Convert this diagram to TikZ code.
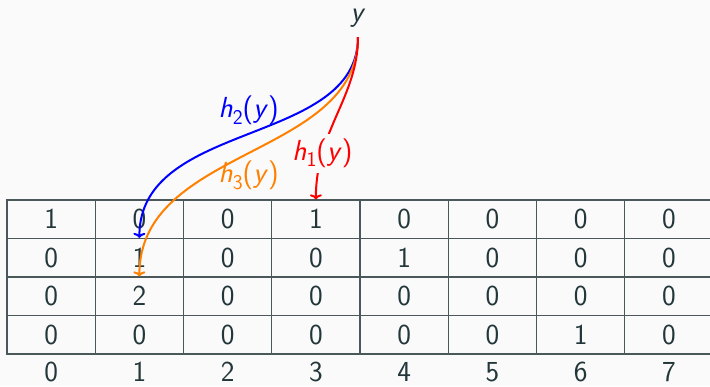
\documentclass[tikz,border=0pt]{standalone}
\usepackage{fontspec}
\usetikzlibrary{arrows.meta}
\definecolor{bgc}{HTML}{FAFAFA}
\definecolor{fgc}{HTML}{23373B}
\definecolor{gridc}{RGB}{75,88,90}
\definecolor{orng}{RGB}{255,128,0}
\newcommand\hlab[1]{\textit{h}\raisebox{-0.22em}{\fontsize{21}{24}\selectfont #1}(\textit{y})}
\tikzset{
  txt/.style={font=\sffamily\fontsize{29}{34}\selectfont, text=fgc},
  cell/.style={txt, draw=gridc, line width=1.3pt, minimum width=88.25pt, minimum height=38.5pt, inner sep=0pt, anchor=center},
  idx/.style={txt, inner sep=0pt, anchor=center},
  hash/.style={line width=2pt, -{To[length=5pt,width=12pt]}, shorten <=9pt},
  lab/.style={font=\sffamily\fontsize{29}{34}\selectfont, inner sep=2pt}
}
\begin{document}
\begin{tikzpicture}[x=1pt,y=-1pt]
\fill[bgc] (0,0) rectangle (710,386);
\useasboundingbox (0,0) rectangle (710,386);
% table
\foreach \r/\vals in {0/{1,0,0,1,0,0,0,0},1/{0,1,0,0,1,0,0,0},2/{0,2,0,0,0,0,0,0},3/{0,0,0,0,0,0,1,0}}{
  \foreach \v [count=\c from 0] in \vals {
    \node[cell] (c-\r-\c) at ({7+88.25*(\c+0.5)},{200+38.5*(\r+0.5)}) {\v};
  }
}
\foreach \c in {0,...,7}{
  \node[idx] (i-\c) at ({7+88.25*(\c+0.5)},372) {\c};
}
% y node
\node[txt, anchor=base, inner xsep=1pt, inner ysep=1pt] (y) at (358,21) {\textit{y}};
% hash arrows
\draw[hash, blue] (y) to[out=-90,in=90] node[lab, above, text=blue, pos=0.5, yshift=5pt] {\hlab{2}} (c-1-1.north);
\draw[hash, orng] (y) to[out=-90,in=90] node[lab, below, text=orng, pos=0.5, inner sep=0pt, yshift=-8pt] {\hlab{3}} (c-2-1.north);
\draw[hash, red] (y) to[out=-90,in=90] node[lab, pos=0.75, fill=bgc, text=red, inner sep=5pt] {\hlab{1}} (c-0-3.north);
\end{tikzpicture}
\end{document}
